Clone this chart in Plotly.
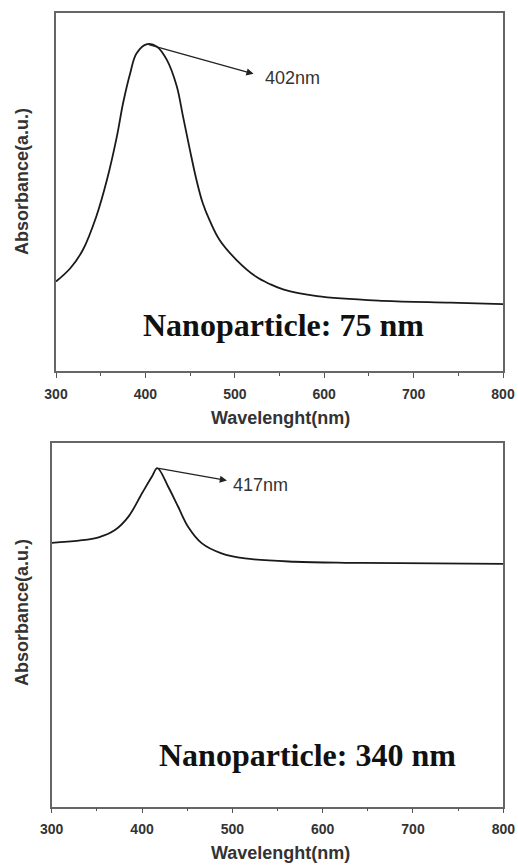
import plotly.graph_objects as go

# ---- data ----
wl_75 = [300, 316, 330, 345, 357, 368, 375, 383, 390, 402, 413, 424, 435, 442, 450, 457,
         464, 472, 483, 502, 524, 539, 554, 592, 666, 741, 800]
abs_75 = [0.250, 0.287, 0.338, 0.431, 0.534, 0.654, 0.748, 0.832, 0.887, 0.913, 0.906, 0.869,
          0.796, 0.712, 0.615, 0.535, 0.470, 0.420, 0.366, 0.310, 0.263, 0.243, 0.228, 0.209,
          0.196, 0.191, 0.187]

wl_340 = [300, 330, 352, 370, 385, 400, 411, 417, 429, 440, 451, 466, 488, 514, 569, 625, 686, 800]
abs_340 = [0.725, 0.731, 0.740, 0.760, 0.797, 0.861, 0.907, 0.930, 0.879, 0.824, 0.769, 0.724,
           0.696, 0.682, 0.673, 0.670, 0.669, 0.667]

x_ticks = [300, 400, 500, 600, 700, 800]
peak_labels = ["402nm", "417nm"]
panel_labels = ["Nanoparticle: 75 nm", "Nanoparticle: 340 nm"]
x_title = "Wavelenght(nm)"
y_title = "Absorbance(a.u.)"

W, H = 518, 866
fig = go.Figure()

fig.add_trace(go.Scatter(x=wl_75, y=abs_75, mode="lines", xaxis="x", yaxis="y",
                         line=dict(color="#1a1a1a", width=1.8, shape="spline", smoothing=1.0),
                         showlegend=False, hoverinfo="skip"))
fig.add_trace(go.Scatter(x=wl_340, y=abs_340, mode="lines", xaxis="x2", yaxis="y2",
                         line=dict(color="#1a1a1a", width=1.8, shape="spline", smoothing=1.0),
                         showlegend=False, hoverinfo="skip"))

axis_common = dict(showgrid=False, zeroline=False, showline=True, linecolor="#666666",
                   linewidth=1.5, mirror=True, automargin=False)
xcommon = dict(axis_common, range=[300, 800], tickvals=x_ticks, ticks="outside", ticklen=5,
               tickwidth=1.2, tickcolor="#555555",
               minor=dict(dtick=50, ticks="outside", ticklen=3, tickwidth=1, tickcolor="#555555"),
               tickfont=dict(family="Arial, Liberation Sans", size=14, color="#333333",
                             weight="bold"),
               ticklabelstandoff=4)
ycommon = dict(axis_common, range=[0, 1], showticklabels=False, ticks="")

fig.update_layout(
    width=W, height=H, margin=dict(l=0, r=0, t=0, b=0, autoexpand=False),
    paper_bgcolor="white", plot_bgcolor="white",
    xaxis=dict(xcommon, domain=[56 / W, 503 / W], anchor="y"),
    yaxis=dict(ycommon, domain=[1 - 371 / H, 1 - 13 / H], anchor="x"),
    xaxis2=dict(xcommon, domain=[51.7 / W, 503.3 / W], anchor="y2"),
    yaxis2=dict(ycommon, domain=[1 - 806.7 / H, 1 - 442.7 / H], anchor="x2"),
)

bold_sans = dict(family="Arial, Liberation Sans", size=18, color="#333333")
serif = dict(family="Times New Roman, Liberation Serif", size=32, color="#111111")
label_font = dict(family="Arial, Liberation Sans", size=18, color="#333333")

anns = []
# axis titles
for ycen in (418, 853):
    anns.append(dict(text="<b>%s</b>" % x_title, xref="paper", yref="paper",
                     x=280 / W, y=1 - ycen / H, showarrow=False, font=bold_sans,
                     xanchor="center", yanchor="middle"))
for ycen in (182, 613):
    anns.append(dict(text="<b>%s</b>" % y_title, xref="paper", yref="paper",
                     x=22 / W, y=1 - ycen / H, showarrow=False, font=bold_sans,
                     textangle=-90, xanchor="center", yanchor="middle"))

# panel labels
anns.append(dict(text="<b>%s</b>" % panel_labels[0], xref="x", yref="y", x=555, y=0.128,
                 showarrow=False, font=serif, xanchor="center", yanchor="middle"))
anns.append(dict(text="<b>%s</b>" % panel_labels[1], xref="x2", yref="y2", x=583, y=0.143,
                 showarrow=False, font=serif, xanchor="center", yanchor="middle"))

# arrows from peaks
anns.append(dict(text="", xref="x", yref="y", x=521, y=0.830, axref="x", ayref="y",
                 ax=wl_75[9], ay=abs_75[9], showarrow=True, arrowhead=2, arrowsize=1.1,
                 arrowwidth=1.3, arrowcolor="#222222"))
anns.append(dict(text=peak_labels[0], xref="x", yref="y", x=532, y=0.818, showarrow=False,
                 font=label_font, xanchor="left", yanchor="middle"))
anns.append(dict(text="", xref="x2", yref="y2", x=494, y=0.896, axref="x2", ayref="y2",
                 ax=wl_340[7], ay=abs_340[7], showarrow=True, arrowhead=2, arrowsize=1.1,
                 arrowwidth=1.3, arrowcolor="#222222"))
anns.append(dict(text=peak_labels[1], xref="x2", yref="y2", x=499, y=0.884, showarrow=False,
                 font=label_font, xanchor="left", yanchor="middle"))

fig.update_layout(annotations=anns)
fig.write_html("out.html")
